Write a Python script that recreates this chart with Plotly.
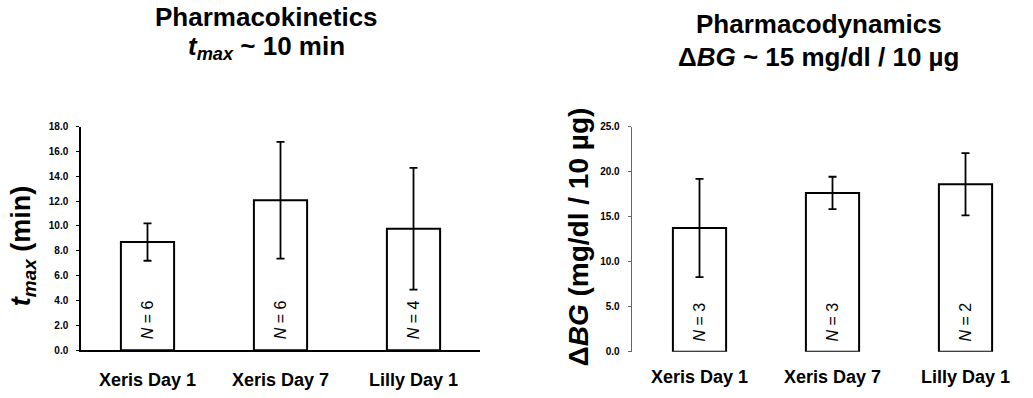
import plotly.graph_objects as go

categories = ["Xeris Day 1", "Xeris Day 7", "Lilly Day 1"]

pk_tmax = [8.7, 12.07, 9.78]
pk_err = [1.5, 4.7, 4.9]
pk_n = ["6", "6", "4"]
pk_ticks = [0, 2, 4, 6, 8, 10, 12, 14, 16, 18]

pd_dbg = [13.74, 17.63, 18.6]
pd_err = [5.45, 1.8, 3.45]
pd_n = ["3", "3", "2"]
pd_ticks = [0, 5, 10, 15, 20, 25]

W, H = 1033, 398
FONT = "Liberation Sans, Arial, sans-serif"


def px(x):
    return x / W


def py(y):
    return 1 - y / H


fig = go.Figure()

fig.add_trace(go.Bar(
    x=categories, y=pk_tmax, xaxis="x", yaxis="y", width=0.4,
    marker=dict(color="white", line=dict(color="black", width=2)),
    error_y=dict(type="data", array=pk_err, color="black", thickness=1.8, width=4),
    showlegend=False,
))
fig.add_trace(go.Bar(
    x=categories, y=pd_dbg, xaxis="x2", yaxis="y2", width=0.4,
    marker=dict(color="white", line=dict(color="black", width=2)),
    error_y=dict(type="data", array=pd_err, color="black", thickness=1.8, width=4),
    showlegend=False,
))

ann = []
for c, n in zip(categories, pk_n):
    ann.append(dict(x=c, y=2.45, xref="x", yref="y", text=f"<i>N</i> = {n}",
                    textangle=-90, showarrow=False,
                    font=dict(family=FONT, size=16, color="black")))
for c, n in zip(categories, pd_n):
    ann.append(dict(x=c, y=3.3, xref="x2", yref="y2", text=f"<i>N</i> = {n}",
                    textangle=-90, showarrow=False,
                    font=dict(family=FONT, size=16, color="black")))

TS = 26
ann += [
    dict(x=px(266), y=py(12), xref="paper", yref="paper", text="<b>Pharmacokinetics</b>",
         showarrow=False, xanchor="center", yanchor="middle",
         font=dict(family=FONT, size=TS, color="black")),
    dict(x=px(266), y=py(44), xref="paper", yref="paper",
         text="<b><i>t</i><sub><i>max</i></sub> ~ 10 min</b>",
         showarrow=False, xanchor="center", yanchor="middle",
         font=dict(family=FONT, size=TS, color="black")),
    dict(x=px(819), y=py(20), xref="paper", yref="paper", text="<b>Pharmacodynamics</b>",
         showarrow=False, xanchor="center", yanchor="middle",
         font=dict(family=FONT, size=TS, color="black")),
    dict(x=px(818), y=py(53), xref="paper", yref="paper",
         text="<b>Δ<i>BG</i> ~ 15 mg/dl / 10 µg</b>",
         showarrow=False, xanchor="center", yanchor="middle",
         font=dict(family=FONT, size=TS, color="black")),
    dict(x=px(23), y=py(248), xref="paper", yref="paper",
         text="<b><i>t</i><sub><i>max</i></sub> (min)</b>", textangle=-90,
         showarrow=False, xanchor="center", yanchor="middle",
         font=dict(family=FONT, size=27, color="black")),
    dict(x=px(578), y=py(239), xref="paper", yref="paper",
         text="<b>Δ<i>BG</i> (mg/dl / 10 µg)</b>", textangle=-90,
         showarrow=False, xanchor="center", yanchor="middle",
         font=dict(family=FONT, size=28, color="black")),
]

tickfont = dict(family=FONT, size=10, color="black", weight="bold")
catfont = dict(family=FONT, size=18, color="black", weight="bold")

fig.update_layout(
    width=W, height=H,
    margin=dict(l=0, r=0, t=0, b=0),
    paper_bgcolor="white", plot_bgcolor="white",
    xaxis=dict(domain=[px(81), px(480)], showline=True, linecolor="black", linewidth=1.5,
               ticks="", tickfont=catfont, ticklabelstandoff=12, showgrid=False,
               anchor="y"),
    yaxis=dict(domain=[py(355), py(125)], range=[0, 18], tickvals=pk_ticks,
               ticktext=[f"{v:.1f}" for v in pk_ticks], showline=True, linecolor="black",
               linewidth=1.5, ticks="outside", ticklen=3, tickcolor="black",
               ticklabelstandoff=6, tickfont=tickfont, showgrid=False, zeroline=False,
               anchor="x"),
    xaxis2=dict(domain=[px(633), px(1032)], showline=False, ticks="", tickfont=catfont,
                ticklabelstandoff=12, showgrid=False, anchor="y2"),
    yaxis2=dict(domain=[py(356.7), py(125)], range=[0, 25], tickvals=pd_ticks,
                ticktext=[f"{v:.1f}" for v in pd_ticks], showline=True, linecolor="#666",
                linewidth=1, ticks="outside", ticklen=3, tickcolor="#666",
                ticklabelstandoff=6, tickfont=tickfont, showgrid=False, zeroline=False,
                anchor="free", position=px(630.7)),
    annotations=ann,
)

fig.write_html(
    "out.html",
    config={"displayModeBar": False},
    post_script="document.body.style.margin='0';document.body.style.overflow='hidden';",
)
